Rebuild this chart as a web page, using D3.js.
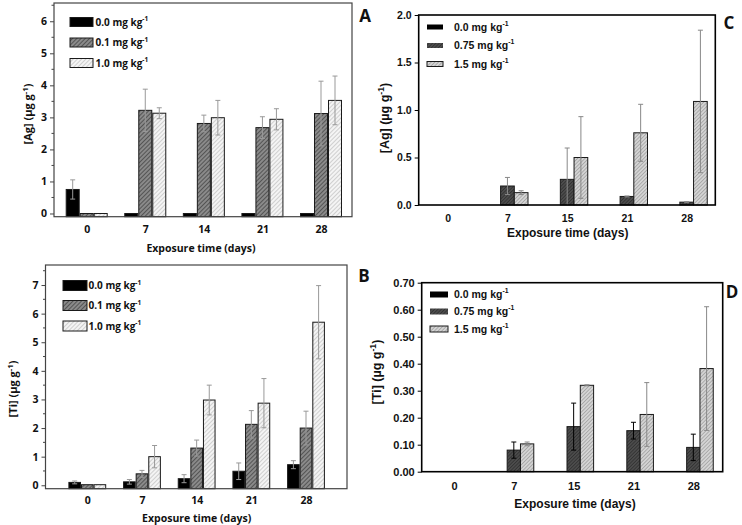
<!DOCTYPE html>
<html><head><meta charset="utf-8">
<script src="https://cdn.jsdelivr.net/npm/d3@7"></script>
<style>body{margin:0;background:#fff}svg{display:block}</style>
</head><body>
<svg id="c" width="742" height="525"></svg>
<script>
// ---------- data ----------
const daysAB = ["0", "7", "14", "21", "28"];
const daysCD = ["0", "7", "15", "21", "28"];
const seriesAB = ["0.0 mg kg", "0.1 mg kg", "1.0 mg kg"];
const seriesCD = ["0.0 mg kg", "0.75 mg kg", "1.5 mg kg"];

// Panel A: [Ag] (µg g-1)
const agA_00 = [0.75, 0, 0, 0, 0];
const agA_00_err = [0.30, 0, 0, 0, 0];
const agA_01 = [0, 3.22, 2.81, 2.68, 3.12];
const agA_01_err = [0, 0.66, 0.26, 0.34, 1.01];
const agA_10 = [0, 3.13, 2.99, 2.94, 3.53];
const agA_10_err = [0, 0.17, 0.54, 0.33, 0.76];

// Panel B: [Ti] (µg g-1)
const tiB_00 = [0.10, 0.12, 0.23, 0.49, 0.72];
const tiB_00_err = [0.05, 0.08, 0.14, 0.29, 0.14];
const tiB_01 = [0.02, 0.40, 1.30, 2.13, 2.00];
const tiB_01_err = [0, 0.12, 0.28, 0.48, 0.59];
const tiB_10 = [0.02, 1.00, 2.98, 2.87, 5.70];
const tiB_10_err = [0, 0.39, 0.52, 0.86, 1.28];

// Panel C: [Ag] (µg g-1)
const agC_00 = [0, 0, 0, 0, 0];
const agC_00_err = [0, 0, 0, 0, 0];
const agC_075 = [0, 0.20, 0.27, 0.09, 0.03];
const agC_075_err = [0, 0.09, 0.33, 0.005, 0.005];
const agC_15 = [0, 0.13, 0.50, 0.76, 1.09];
const agC_15_err = [0, 0.02, 0.43, 0.30, 0.75];

// Panel D: [Ti] (µg g-1)
const tiD_00 = [0, 0, 0, 0, 0];
const tiD_00_err = [0, 0, 0, 0, 0];
const tiD_075 = [0, 0.080, 0.167, 0.152, 0.090];
const tiD_075_err = [0, 0.030, 0.087, 0.031, 0.049];
const tiD_15 = [0, 0.103, 0.320, 0.212, 0.382];
const tiD_15_err = [0, 0.007, 0.002, 0.118, 0.229];

const ticksA = [0, 1, 2, 3, 4, 5, 6];
const ticksB = [0, 1, 2, 3, 4, 5, 6, 7];
const ticksC = [0, 0.5, 1.0, 1.5, 2.0];
const ticksD = [0, 0.1, 0.2, 0.3, 0.4, 0.5, 0.6, 0.7];

// ---------- drawing ----------
const svg = d3.select("#c");
const defs = svg.append("defs");
function hatch(id, bg, fg, size, w) {
  const p = defs.append("pattern").attr("id", id).attr("patternUnits", "userSpaceOnUse")
    .attr("width", size).attr("height", size).attr("patternTransform", "rotate(45)");
  p.append("rect").attr("width", size).attr("height", size).attr("fill", bg);
  p.append("line").attr("x1", 0).attr("y1", 0).attr("x2", 0).attr("y2", size)
    .attr("stroke", fg).attr("stroke-width", w);
}
hatch("darkAB", "#8a8a8a", "#3c3c3c", 3, 1.4);
hatch("lightAB", "#f4f4f4", "#b0b0b0", 3, 1.1);
hatch("darkCD", "#4c4c4c", "#262626", 2.4, 1.1);
hatch("lightCD", "#d4d4d4", "#8c8c8c", 2.6, 1.1);

const OS = "'Open Sans', sans-serif";
const LS = "'Liberation Sans', Arial, sans-serif";

function drawPanel(cfg) {
  const g = svg.append("g");
  const x = d3.scalePoint().domain(cfg.cats).range(cfg.xr);
  const sub = d3.scaleBand().domain(cfg.series).range([-1.5 * cfg.bw, 1.5 * cfg.bw]);
  const y = d3.scaleLinear().domain(cfg.yd).range([cfg.fb, cfg.ft]);

  // bars
  cfg.values.forEach((vals, si) => {
    vals.forEach((v, ci) => {
      const h = y(cfg.yd[0]) - y(v);
      if (h <= 0.2) return;
      g.append("rect")
        .attr("x", x(cfg.cats[ci]) + sub(cfg.series[si]) + cfg.gap / 2)
        .attr("width", sub.bandwidth() - cfg.gap)
        .attr("y", y(v)).attr("height", h)
        .attr("fill", cfg.fills[si]).attr("stroke", "#1a1a1a").attr("stroke-width", 1);
    });
  });
  // error bars
  cfg.errors.forEach((errs, si) => {
    errs.forEach((e, ci) => {
      if (!e) return;
      const v = cfg.values[si][ci];
      const cx = x(cfg.cats[ci]) + sub(cfg.series[si]) + sub.bandwidth() / 2;
      const col = cfg.errColors[si];
      const lo = Math.max(v - e, cfg.yd[0]);
      g.append("line").attr("x1", cx).attr("x2", cx).attr("y1", y(lo)).attr("y2", y(v + e))
        .attr("stroke", col).attr("stroke-width", 1);
      [v + e, v - e].forEach(t => {
        if (t < cfg.yd[0]) return;
        g.append("line").attr("x1", cx - cfg.cap).attr("x2", cx + cfg.cap)
          .attr("y1", y(t)).attr("y2", y(t)).attr("stroke", col).attr("stroke-width", 1);
      });
    });
  });
  // frame
  g.append("rect").attr("x", cfg.fl).attr("y", cfg.ft)
    .attr("width", cfg.fr - cfg.fl).attr("height", cfg.fb - cfg.ft)
    .attr("fill", "none").attr("stroke", cfg.frameColor).attr("stroke-width", cfg.frameW);

  // y axis
  const ya = g.append("g").attr("transform", `translate(${cfg.fl},0)`)
    .call(d3.axisLeft(y).tickValues(cfg.ticks).tickFormat(d3.format(cfg.fmt)).tickSize(cfg.tickLen).tickPadding(3));
  ya.select(".domain").remove();
  ya.selectAll("line").attr("stroke", cfg.frameColor).attr("stroke-width", 1);
  ya.selectAll("text").attr("font-family", cfg.font).attr("font-weight", "bold")
    .attr("font-size", cfg.tickFs).attr("fill", "#111");
  if (cfg.minor) {
    const minors = d3.range(cfg.ticks[0] + 0.5, cfg.ticks[cfg.ticks.length - 1] + 0.6, 1);
    g.selectAll(null).data(minors).enter().append("line")
      .attr("x1", cfg.fl - 2.5).attr("x2", cfg.fl).attr("y1", d => y(d)).attr("y2", d => y(d))
      .attr("stroke", cfg.frameColor).attr("stroke-width", 1);
  }
  // x axis labels
  const xa = g.append("g").attr("transform", `translate(0,${cfg.fb})`)
    .call(d3.axisBottom(x).tickSize(0).tickPadding(cfg.xPad));
  xa.select(".domain").remove();
  xa.selectAll("text").attr("font-family", cfg.font).attr("font-weight", "bold")
    .attr("font-size", cfg.tickFs).attr("fill", "#111");

  // titles
  g.append("text").attr("x", cfg.xtX).attr("y", cfg.xtY).attr("text-anchor", "middle")
    .attr("font-family", cfg.font).attr("font-weight", "bold").attr("font-size", cfg.titleFs)
    .attr("fill", "#111").text("Exposure time (days)");
  const yt = g.append("text").attr("transform", `translate(${cfg.ytX},${cfg.ytY}) rotate(-90)`)
    .attr("text-anchor", "middle").attr("font-family", cfg.font).attr("font-weight", "bold")
    .attr("font-size", cfg.yTitleFs).attr("fill", "#111");
  yt.append("tspan").text(cfg.yTitle);
  yt.append("tspan").attr("dy", -cfg.yTitleFs * 0.4).attr("font-size", cfg.yTitleFs * 0.7).text("-1");
  yt.append("tspan").attr("dy", cfg.yTitleFs * 0.4).text(")");

  // legend
  cfg.series.forEach((s, i) => {
    const ly = cfg.legY[i];
    g.append("rect").attr("x", cfg.legX).attr("y", ly - cfg.legH / 2)
      .attr("width", cfg.legW).attr("height", cfg.legH)
      .attr("fill", cfg.fills[i]).attr("stroke", cfg.legStroke[i] ? "#1a1a1a" : "none").attr("stroke-width", 1);
    const t = g.append("text").attr("x", cfg.legTX).attr("y", ly + cfg.legFs * 0.35)
      .attr("font-family", cfg.font).attr("font-weight", "bold").attr("font-size", cfg.legFs).attr("fill", "#111");
    t.append("tspan").text(s);
    t.append("tspan").attr("dy", -cfg.legFs * 0.45).attr("font-size", cfg.legFs * 0.65).text("-1");
  });

  // panel letter
  g.append("text").attr("x", cfg.letX).attr("y", cfg.letY).attr("text-anchor", "middle")
    .attr("font-family", OS).attr("font-weight", "bold").attr("font-size", 17)
    .attr("fill", "#111").text(cfg.letter);
}

const fillsAB = ["#000", "url(#darkAB)", "url(#lightAB)"];
const fillsCD = ["#000", "url(#darkCD)", "url(#lightCD)"];

drawPanel({
  cats: daysAB, series: seriesAB, values: [agA_00, agA_01, agA_10], errors: [agA_00_err, agA_01_err, agA_10_err],
  fl: 54, fr: 352, ft: 3, fb: 216.7, xr: [86.7, 321], yd: [-0.1, 6.57], bw: 14, gap: 1, cap: 2.5,
  fills: fillsAB, errColors: ["#999", "#999", "#999"], frameColor: "#444", frameW: 1.2,
  ticks: ticksA, fmt: "d", tickLen: 4, minor: true, font: OS, tickFs: 10.5, xPad: 9,
  titleFs: 10.5, xtX: 201, xtY: 252, yTitle: "[Ag] (µg g", yTitleFs: 11, ytX: 32, ytY: 114,
  legX: 70, legW: 23, legH: 9, legY: [22, 42.5, 63], legTX: 95.5, legFs: 10, legStroke: [true, true, true],
  letter: "A", letX: 365, letY: 22
});
drawPanel({
  cats: daysAB, series: seriesAB, values: [tiB_00, tiB_01, tiB_10], errors: [tiB_00_err, tiB_01_err, tiB_10_err],
  fl: 45.5, fr: 347, ft: 265, fb: 488.7, xr: [87.3, 306], yd: [-0.12, 7.7], bw: 12.6, gap: 1, cap: 2.5,
  fills: fillsAB, errColors: ["#999", "#999", "#999"], frameColor: "#444", frameW: 1.2,
  ticks: ticksB, fmt: "d", tickLen: 4, minor: true, font: OS, tickFs: 10.5, xPad: 8,
  titleFs: 10.5, xtX: 196.7, xtY: 522, yTitle: "[Ti] (µg g", yTitleFs: 11, ytX: 17, ytY: 389,
  legX: 63, legW: 24, legH: 10, legY: [285.5, 305.5, 326], legTX: 88.5, legFs: 10, legStroke: [true, true, true],
  letter: "B", letX: 364, letY: 282
});
drawPanel({
  cats: daysCD, series: seriesCD, values: [agC_00, agC_075, agC_15], errors: [agC_00_err, agC_075_err, agC_15_err],
  fl: 418.7, fr: 715.3, ft: 15, fb: 205, xr: [447.7, 686.7], yd: [0, 2], bw: 13.7, gap: 0, cap: 2.5,
  fills: fillsCD, errColors: ["#888", "#888", "#888"], frameColor: "#000", frameW: 1.6,
  ticks: ticksC, fmt: ".1f", tickLen: 4, minor: false, font: LS, tickFs: 10.5, xPad: 10,
  titleFs: 12, xtX: 567.7, xtY: 237, yTitle: "[Ag] (µg  g", yTitleFs: 12.5, ytX: 389, ytY: 118,
  legX: 427, legW: 16, legH: 5, legY: [27, 45.5, 64], legTX: 454, legFs: 10.5, legStroke: [false, false, true],
  letter: "C", letX: 729, letY: 29
});
drawPanel({
  cats: daysCD, series: seriesCD, values: [tiD_00, tiD_075, tiD_15], errors: [tiD_00_err, tiD_075_err, tiD_15_err],
  fl: 421.7, fr: 722.7, ft: 282.7, fb: 471.7, xr: [454, 693.3], yd: [0, 0.7], bw: 13.3, gap: 0, cap: 2.5,
  fills: fillsCD, errColors: ["#000", "#000", "#888"], frameColor: "#000", frameW: 1.6,
  ticks: ticksD, fmt: ".2f", tickLen: 4, minor: false, font: LS, tickFs: 11, xPad: 11,
  titleFs: 12, xtX: 575, xtY: 508, yTitle: "[Ti] (µg  g", yTitleFs: 12.5, ytX: 381, ytY: 372,
  legX: 430, legW: 18, legH: 6, legY: [294.5, 311.5, 329], legTX: 454, legFs: 10.5, legStroke: [false, false, true],
  letter: "D", letX: 732, letY: 298
});
</script>
</body></html>
